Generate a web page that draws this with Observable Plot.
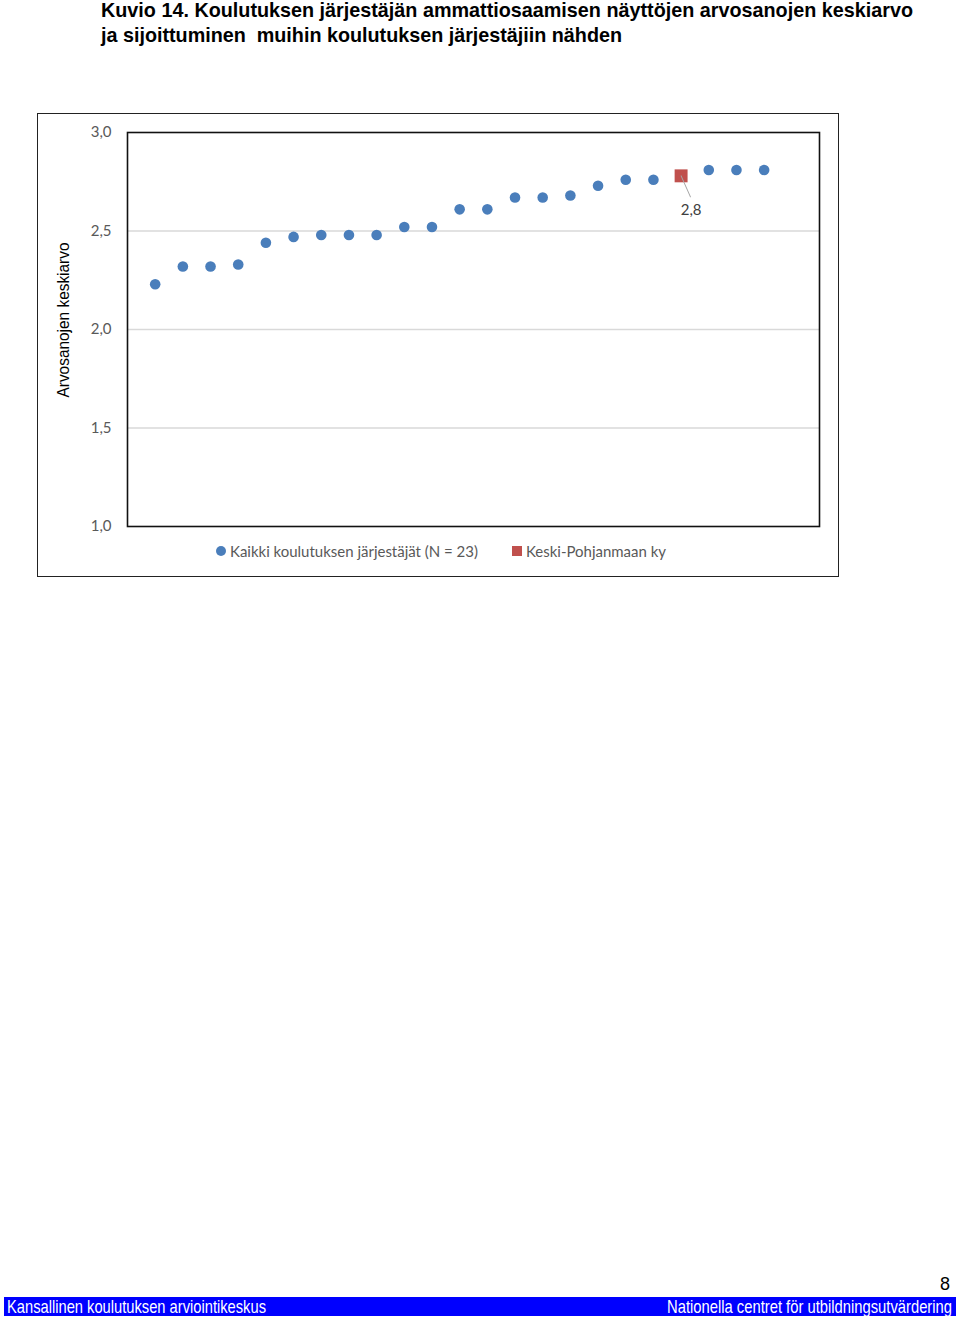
<!DOCTYPE html>
<html><head><meta charset="utf-8">
<script src="https://cdn.jsdelivr.net/npm/d3@7"></script>
<script src="https://cdn.jsdelivr.net/npm/@observablehq/plot@0.6"></script>
<style>
body{margin:0;background:#fff;width:960px;height:1326px;position:relative;overflow:hidden;font-family:"Liberation Sans",Arial,sans-serif;}
.fit{position:absolute;white-space:pre;transform-origin:0 0;}
.title{left:101px;font-weight:bold;font-size:21px;line-height:19px;color:#000;}
#box{position:absolute;left:37px;top:113px;width:802px;height:464px;border:1.5px solid #222;box-sizing:border-box;}
#chart{position:absolute;left:0;top:100px;}
#ylabel{position:absolute;left:64px;top:318px;font-size:16px;white-space:nowrap;color:#000;}
.leg{position:absolute;top:541px;font-family:Lato,sans-serif;font-size:15px;color:#595959;white-space:nowrap;line-height:20px;}
.sw{position:absolute;}
#footer{position:absolute;left:4px;top:1297px;width:952px;height:19px;background:#0000ff;}
.ft{color:#fff;font-size:19px;line-height:19px;top:1297px;}
#page{position:absolute;left:940px;top:1274px;font-size:18px;color:#000;}
</style></head>
<body>
<div class="fit title" id="t1" style="top:0px">Kuvio 14. Koulutuksen järjestäjän ammattiosaamisen näyttöjen arvosanojen keskiarvo</div>
<div class="fit title" id="t2" style="top:25px">ja sijoittuminen  muihin koulutuksen järjestäjiin nähden</div>
<div id="box"></div>
<div id="chart"></div>
<div id="ylabel">Arvosanojen keskiarvo</div>
<div class="sw" style="left:216px;top:546px;width:10px;height:10px;border-radius:50%;background:#4a7ebb"></div>
<div class="leg fit" id="l1" style="left:230px">Kaikki koulutuksen järjestäjät (N = 23)</div>
<div class="sw" style="left:512px;top:546px;width:10px;height:10px;background:#c0504d"></div>
<div class="leg fit" id="l2" style="left:526px">Keski-Pohjanmaan ky</div>
<div id="page">8</div>
<div id="footer"></div>
<div class="fit ft" id="f1" style="left:7px">Kansallinen koulutuksen arviointikeskus</div>
<div class="fit ft" id="f2" style="left:667px">Nationella centret för utbildningsutvärdering</div>
<script>
// Data
const ranks = [1,2,3,4,5,6,7,8,9,10,11,12,13,14,15,16,17,18,19,20,21,22,23];
const allValues = [2.23,2.32,2.32,2.33,2.44,2.47,2.48,2.48,2.48,2.52,2.52,2.61,2.61,2.67,2.67,2.68,2.73,2.76,2.76,2.78,2.81,2.81,2.81];
const highlightRank = [20];
const highlightValue = [2.78];
const highlightLabel = ["2,8"];
const yTicks = [1.0,1.5,2.0,2.5,3.0];

const all = ranks.map((r,i)=>({rank:r, value:allValues[i]}));
const hl = highlightRank.map((r,i)=>({rank:r, value:highlightValue[i], label:highlightLabel[i]}));

const marks = [
  Plot.gridY([1.5,2.0,2.5], {stroke:"#d9d9d9", strokeOpacity:1, strokeWidth:1.3}),
  Plot.frame({stroke:"#111", strokeWidth:1.6}),
  Plot.axisY(yTicks, {tickSize:0, tickPadding:16, label:null, tickFormat:d=>d.toFixed(1).replace(".",","), fontSize:15, fill:"#595959"}),
  Plot.dot(all, {x:"rank", y:"value", r:5.3, fill:"#4a7ebb"}),
  Plot.dot(hl, {x:"rank", y:"value", symbol:"square", r:7.3, fill:"#c0504d"}),
  Plot.vector(hl, {x:"rank", y:"value", length:23, rotate:156, anchor:"start", stroke:"#a6a6a6", strokeWidth:1,
    shape:{draw(ctx,l){ctx.moveTo(0,0); ctx.lineTo(0,-l);}}}),
  Plot.text(hl, {x:"rank", y:"value", text:"label", dx:10, dy:34, fontSize:15, fill:"#404040"})
];

const chart = Plot.plot({
  width:960, height:500,
  marginLeft:127, marginRight:141, marginTop:32, marginBottom:74,
  style:{background:"transparent", fontFamily:"Lato, sans-serif", overflow:"visible"},
  x:{domain:[0,25], axis:null},
  y:{domain:[1,3], axis:null},
  marks
});
document.getElementById("chart").appendChild(chart);

function fit(id, w){
  const el = document.getElementById(id);
  const cw = el.getBoundingClientRect().width;
  el.style.transform = `scaleX(${w/cw})`;
}
fit("t1", 812); fit("t2", 521); fit("f1", 259); fit("f2", 285);
fit("l1", 248); fit("l2", 140);
// y label: rotated, centred, scaled to reference length
(function(){
  const el = document.getElementById("ylabel");
  const r = el.getBoundingClientRect();
  const w = r.width, h = r.height;
  el.style.transformOrigin = "0 0";
  el.style.left = "0px"; el.style.top = "0px";
  el.style.transform = `translate(64px,320px) rotate(-90deg) scaleX(${155/w}) translate(${-w/2}px,${-h/2}px)`;
})();
</script>
</body></html>
